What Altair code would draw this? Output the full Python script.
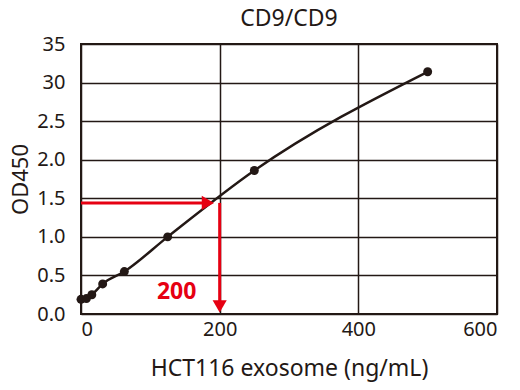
import altair as alt
import pandas as pd

conc = [0, 7.8, 15.6, 31.25, 62.5, 125, 250, 500]
od = [0.19, 0.20, 0.25, 0.39, 0.55, 1.00, 1.86, 3.14]

target_x = 200
target_y = 1.44
x_ticks = [0, 200, 400, 600]
y_ticks = [0, 0.5, 1.0, 1.5, 2.0, 2.5, 3.0, 3.5]

df = pd.DataFrame({"x": conc, "y": od})
ink = "#231815"
red = "#e60012"
font = "Noto Sans"

xs = alt.Scale(domain=[0, 600], nice=False)
ys = alt.Scale(domain=[0, 3.5], nice=False)

base = alt.Chart(df)

curve = base.mark_line(color=ink, strokeWidth=2.5, interpolate="monotone", clip=False).encode(
    x=alt.X("x:Q", scale=xs, axis=alt.Axis(values=x_ticks, tickCount=len(x_ticks) + 2,
                                          title="HCT116 exosome (ng/mL)",
                                          labelFontSize=20, titleFontSize=23,
                                          labelPadding=5, titlePadding=18)),
    y=alt.Y("y:Q", scale=ys, axis=alt.Axis(values=y_ticks, tickCount=len(y_ticks) + 2,
                                          title="OD450",
                                          labelExpr="datum.value == 3 ? '30' : datum.value == 3.5 ? '35' : format(datum.value, '.1f')",
                                          labelFontSize=20, titleFontSize=22,
                                          labelPadding=16, titlePadding=4)),
)
pts = base.mark_circle(color=ink, size=80, opacity=1, clip=False).encode(x="x:Q", y="y:Q")

hline = alt.Chart(pd.DataFrame({"x": [0], "x2": [183], "y": [target_y]})).mark_rule(
    color=red, strokeWidth=3).encode(x="x:Q", x2="x2:Q", y="y:Q")
vline = alt.Chart(pd.DataFrame({"x": [target_x], "y": [target_y], "y2": [0.12]})).mark_rule(
    color=red, strokeWidth=3).encode(x="x:Q", y="y:Q", y2="y2:Q")
hhead = alt.Chart(pd.DataFrame({"x": [183], "y": [target_y]})).mark_point(
    shape="triangle-right", filled=True, color=red, opacity=1, size=200).encode(x="x:Q", y="y:Q")
vhead = alt.Chart(pd.DataFrame({"x": [target_x], "y": [0.1]})).mark_point(
    shape="triangle-down", filled=True, color=red, opacity=1, size=200).encode(x="x:Q", y="y:Q")
label = alt.Chart(pd.DataFrame({"x": [138], "y": [0.285], "t": ["200"]})).mark_text(
    color=red, fontSize=23, fontWeight="bold", font=font).encode(x="x:Q", y="y:Q", text="t:N")

chart = alt.layer(curve, hline, vline, hhead, vhead, pts, label).properties(
    width=416, height=270,
    background="white",
    title=alt.TitleParams("CD9/CD9", fontSize=23, fontWeight="normal", color=ink, font=font, offset=3),
    autosize=alt.AutoSizeParams(type="none"),
    padding={"left": 73, "top": 36, "right": 15, "bottom": 68},
).configure_axis(
    grid=True, gridColor=ink, gridWidth=1.5, domain=False, ticks=False,
    labelOverlap=False, labelColor=ink, titleColor=ink, titleFontWeight="normal",
    labelFont=font, titleFont=font,
).configure_view(stroke=ink, strokeWidth=2)

chart.save("out.html", embed_options={"renderer": "svg", "actions": False})
